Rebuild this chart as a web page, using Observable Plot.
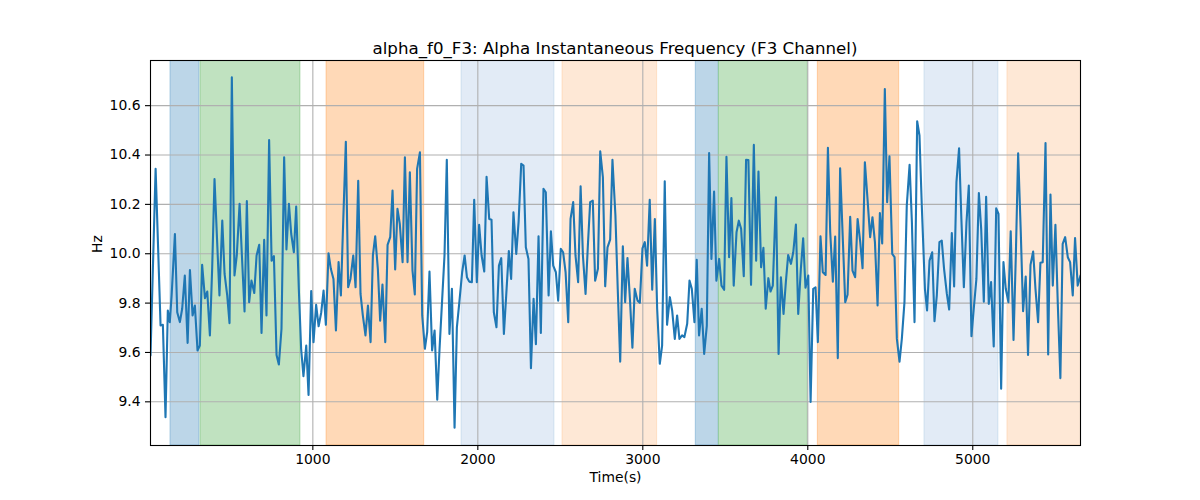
<!DOCTYPE html>
<html>
<head>
<meta charset="utf-8">
<script src="https://cdn.jsdelivr.net/npm/d3@7"></script>
<script src="https://cdn.jsdelivr.net/npm/@observablehq/plot@0.6"></script>
<style>
  html, body { margin: 0; padding: 0; background: white; }
  #wrap { position: relative; width: 1200px; height: 500px; font-family: "DejaVu Sans", sans-serif; }
  #title { position: absolute; left: 150px; width: 930px; top: 39px; text-align: center; font-size: 16.67px; color: #000; white-space: nowrap; z-index: 2; }
  #chart { position: absolute; left: 0; top: 50px; z-index: 1; }
</style>
</head>
<body>
<div id="wrap">
  <div id="title">alpha_f0_F3: Alpha Instantaneous Frequency (F3 Channel)</div>
  <div id="chart"></div>
</div>
<script>
// ---- data ----
const times = [
  16,47,77,91,107,121,133,144,164,178,194,208,224,241,255,271,285,301,315,329,346,360,376,390,404,420,434,451,465,481,495,509,525,539,556,570,586,600,614,628,645,659,675,689,705,719,735,750,764,780,794,810,826,840,855,869,885,899,915,929,943,
  960,974,990,1004,1020,1035,1051,1065,1079,1095,1109,1125,1140,1156,1170,1184,1200,1214,1228,1245,1259,1275,1289,1303,1319,1334,1350,1364,1378,1394,1408,1422,1439,1453,1469,1483,1499,1513,1527,1544,1558,1574,1588,1604,1618,1632,1649,1663,1679,1693,1707,1723,1738,1754,1768,1784,1798,1812,1828,1843,1859,1873,1887,
  1905,1920,1934,1948,1964,1978,1994,2008,2023,2039,2053,2069,2083,2097,2113,2128,2142,2158,2172,2188,2202,2216,2233,2247,2263,2277,2291,2307,2322,2338,2352,2368,2382,2398,2412,2429,2443,2457,2473,2487,2503,2517,2532,2548,2562,2578,2592,2608,2623,2637,2653,2667,2681,2697,2711,2728,2742,2758,2772,2786,2802,2816,
  2834,2848,2863,2879,2893,2907,2923,2937,2951,2968,2982,2998,3012,3026,3042,3057,3073,3087,3103,3117,3133,3147,3164,3178,3194,3208,3222,3238,3252,3269,3283,3297,3313,3327,3341,3357,3372,3388,3402,3416,3432,3446,3463,3477,3493,3507,3523,3537,3551,3568,3582,3596,3612,3626,3640,3656,3673,3687,3701,3717,3731,3745,3761,
  3774,3788,3807,3823,3837,3853,3867,3881,3898,3912,3928,3942,3958,3972,3986,4003,4017,4033,4047,4061,4077,4091,4108,4122,4136,4152,4166,4182,4196,4213,4227,4241,4257,4271,4287,4302,4318,4332,4346,4362,4378,4392,4407,4423,4437,4451,4467,4481,4495,4512,4526,4540,4556,4570,4586,4600,4617,4631,4647,4663,4677,4691,4710,
  4723,4738,4754,4768,4782,4798,4812,4826,4843,4857,4873,4887,4901,4917,4931,4946,4962,4976,4992,5006,5022,5037,5051,5067,5081,5097,5111,5127,5142,5156,5172,5186,5200,5216,5230,5247,5261,5275,5291,5305,5321,5335,5350,5366,5380,5396,5410,5424,5441,5457,5471,5485,5501,5515,5531,5545,5560,5576,5590,5606,5620,5636,5653
];
const hz = [
  9.588,10.344,9.709,9.712,9.338,9.770,9.723,9.831,10.080,9.763,9.723,9.777,9.912,9.639,9.934,9.750,9.790,9.608,9.628,9.955,9.820,9.847,9.669,9.945,10.303,10.047,9.831,10.134,9.918,9.831,9.719,10.715,9.912,9.993,10.202,9.993,9.766,10.213,9.804,9.891,9.841,9.993,10.036,9.679,10.056,9.750,10.461,9.972,9.990,9.590,9.551,9.696,10.391,10.017,10.202,10.080,10.006,10.191,9.858,9.615,9.504,
  9.628,9.428,9.849,9.642,9.793,9.706,9.763,9.851,9.712,10.002,9.939,9.898,9.689,9.966,9.831,10.128,10.454,9.864,9.898,9.993,9.864,10.296,9.837,9.750,9.669,9.790,9.642,9.993,10.071,9.939,9.729,9.875,9.642,10.036,10.067,10.256,9.936,10.182,10.121,9.966,10.391,9.966,10.330,9.932,9.835,10.344,10.411,9.750,9.615,9.682,9.928,9.608,9.689,9.409,9.615,9.817,9.993,10.381,9.675,9.858,9.295,9.702,9.797,
  9.925,9.993,9.905,9.887,9.885,10.219,9.885,10.117,9.993,9.928,10.312,10.141,10.138,9.763,9.702,9.952,9.982,9.675,9.831,10.011,9.898,10.168,9.999,10.128,10.364,10.357,10.026,9.979,9.536,9.817,9.633,10.071,9.679,10.263,10.249,9.831,10.091,9.952,9.925,9.810,10.020,10.006,9.925,9.723,10.141,10.209,9.993,9.885,10.273,9.993,9.837,10.033,10.209,10.215,9.891,9.939,10.415,10.310,9.868,10.026,10.057,10.381,
  10.155,9.858,9.563,10.030,9.804,9.983,9.804,9.619,9.858,9.810,9.801,10.022,10.047,9.952,10.219,9.854,10.141,9.777,9.554,9.628,10.294,9.712,9.824,9.770,9.655,9.750,9.655,9.669,9.662,9.716,9.891,9.858,9.723,9.975,9.669,9.777,9.594,9.709,10.408,9.979,10.252,9.891,9.979,9.871,9.854,10.393,9.986,10.226,9.871,10.087,10.134,10.101,9.909,10.381,10.380,9.874,10.441,9.972,10.333,9.945,10.024,9.777,9.901,
  9.847,9.871,10.229,9.594,9.905,9.756,9.885,9.995,9.959,10.006,10.118,9.756,9.939,10.063,9.862,9.912,9.399,9.858,9.864,9.642,10.071,9.925,9.914,10.429,10.087,9.887,10.070,9.577,10.346,10.047,9.804,9.834,10.150,9.932,9.905,10.141,10.047,9.941,10.371,10.222,10.067,10.148,10.047,9.790,10.165,10.042,10.667,10.209,10.395,9.999,9.986,9.655,9.563,9.655,9.804,10.195,10.360,10.128,9.723,10.537,10.479,10.195,9.858,
  9.770,9.972,10.006,9.727,9.831,10.047,10.053,9.939,9.837,9.774,10.084,9.867,10.290,10.427,10.141,9.864,10.128,10.276,9.666,9.777,9.898,10.246,10.101,9.806,10.231,9.797,9.885,9.624,10.184,10.161,9.453,9.966,9.858,9.804,10.091,9.651,9.993,10.407,10.087,9.767,9.908,9.590,9.955,10.009,9.858,9.723,9.963,9.966,10.449,9.592,10.240,9.871,10.117,9.804,9.496,10.040,10.067,9.986,9.966,9.831,10.064,9.871,9.912
];
const spanStart = [137, 319, 1083, 1901, 2513, 3321, 3461, 4061, 4707, 5210];
const spanEnd   = [313, 925, 1675, 2465, 3087, 3461, 4000, 4554, 5156, 5660];
const spanKind  = ["blue","green","orange","lightblue","lightorange","blue","green","orange","lightblue","lightorange"];
const xTicks = [1000, 2000, 3000, 4000, 5000];
const yTicks = [9.4, 9.6, 9.8, 10.0, 10.2, 10.4, 10.6];

// ---- styles ----
const kindStyle = {
  blue:        {fill: "#bcd6e8", stroke: "#1f77b4", so: 0.3},
  green:       {fill: "#c0e2c0", stroke: "#2ca02c", so: 0.3},
  orange:      {fill: "#ffd9b7", stroke: "#ff7f0e", so: 0.3},
  lightblue:   {fill: "#e2ebf6", stroke: "#1f77b4", so: 0.13},
  lightorange: {fill: "#fee8d6", stroke: "#ff7f0e", so: 0.16}
};

const rows = times.map((t, i) => ({t, v: hz[i]}));
const spans = spanStart.map((s, i) => ({start: s, end: spanEnd[i], kind: spanKind[i]}));

const spanMarks = Object.keys(kindStyle).map(k =>
  Plot.rect(spans.filter(d => d.kind === k), {
    x1: "start", x2: "end",
    fill: kindStyle[k].fill,
    stroke: kindStyle[k].stroke, strokeOpacity: kindStyle[k].so, strokeWidth: 1,
    clip: true
  })
);

const chart = Plot.plot({
  width: 1200,
  height: 450,
  marginLeft: 150,
  marginRight: 120,
  marginTop: 10,
  marginBottom: 55,
  style: {fontFamily: "DejaVu Sans, sans-serif", fontSize: "13.9px", color: "black", background: "transparent", overflow: "visible"},
  x: {domain: [d3.min(times), d3.max(times)]},
  y: {domain: [9.223, 10.783]},
  marks: [
    ...spanMarks,
    Plot.gridX(xTicks, {stroke: "#b0b0b0", strokeOpacity: 1, strokeWidth: 1.1}),
    Plot.gridY(yTicks, {stroke: "#b0b0b0", strokeOpacity: 1, strokeWidth: 1.1}),
    Plot.line(rows, {x: "t", y: "v", stroke: "#1f77b4", strokeWidth: 2.1, clip: true}),
    Plot.axisX(xTicks, {tickSize: 5, tickPadding: 4, tickFormat: d => String(d), label: null, strokeWidth: 1.1}),
    Plot.axisY(yTicks, {tickSize: 5, tickPadding: 5, tickFormat: d => d.toFixed(1), label: null, strokeWidth: 1.1}),
    Plot.frame({stroke: "black", strokeWidth: 1.1}),
    Plot.text(["Time(s)"], {frameAnchor: "bottom", dy: 36, fontSize: 13.9, fill: "black"}),
    Plot.text(["Hz"], {frameAnchor: "left", dx: -53, rotate: -90, fontSize: 13.9, fill: "black"})
  ]
});
document.getElementById("chart").appendChild(chart);
</script>
</body>
</html>
